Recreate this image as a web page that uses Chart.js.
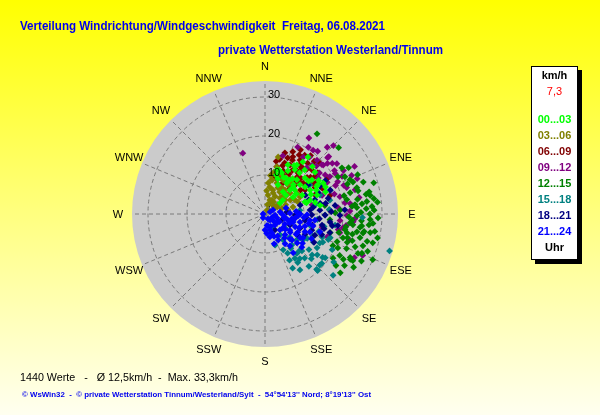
<!DOCTYPE html>
<html><head><meta charset="utf-8">
<script src="https://cdn.jsdelivr.net/npm/chart.js@4.4.0/dist/chart.umd.min.js"></script>
<style>html,body{margin:0;padding:0;background:#fff}#c{display:block}</style>
</head><body>
<canvas id="c" width="600" height="415"></canvas>
<script>
// ---- data: [direction in degrees, speed in km/h] per 3-hour period ----
const hourLabels = ['00...03','03...06','06...09','09...12','12...15','15...18','18...21','21...24'];
const h00 = [[15,11.7],[22,11.4],[36,16.5],[37,18.3],[40,13.8],[43,12],[35,9.7],[46,8.9],[39,7.3],[46,10],[54,14.9],[61,15.5],[62,16.9],[52,5.8],[54,4.8],[63,10.7],[73,10.7],[59,8.4],[70,14.2],[81,14.3],[18,11.8],[16,10.4],[62,15],[51,9.8],[73,12.1],[24,8.2],[66,17],[25,13.9],[34,13.7],[48,13.8],[50,11.7],[62,13.1],[30,10.7],[50,16.7],[36,10.8],[28,12.5],[42,15.2],[56,12.4],[67,12.8],[45,17.2],[33,15],[58,16.2],[77,13.2],[20,9.6],[48,7.2],[38,11.5],[31,14.5],[44,10.5],[53,14],[65,14.5],[70,16.5],[75,11],[57,9.5],[27,10.5]];
const h03 = [[13,15],[21,5.8],[27,4],[55,4],[12,8.9],[21,8.5],[33,8],[49,7.5],[43,5.6],[55,3.1],[71,4.6],[61,7.4],[76,7.4],[57,9.8],[70,9],[11,9],[24,3.1],[60,3.6],[27,1.1],[10,7],[12,11],[9,4.9],[40,8],[50,8.4],[65,8.5],[55,6.3],[34,6.8],[64,10],[38,9.5],[18,6.5],[30,5.2],[45,3],[66,5.8],[40,10.5],[28,9.8],[80,6],[15,2.5],[8,10],[6,8],[14,12.5],[17,10.2],[19,3.8],[22,11],[35,3.8],[4,6],[26,7.5],[45,6.5]];
const h06 = [[27,15.5],[27,14.1],[32,13.2],[28,12.2],[22,10.2],[16,9.7],[30,9.2],[38,15.3],[39,13.5],[49,14.3],[47,16.5],[58,15.7],[51,12.6],[40,11.3],[66,16.1],[23,12],[10,10.2],[39,14.4],[52,17.2],[60,18.6],[51,15],[41,12.5],[65,16.4],[57,14.6],[21,14],[22,15.5],[46,10.7],[59,12],[69,13.7],[74,17.4],[33,16.5],[40,17],[44,9.2],[35,11],[45,13],[55,13.5],[62,14.5],[30,17.5],[14,12.5],[25,11],[36,13.8],[43,15.8],[48,12],[53,16],[63,17],[35,15.3],[20,13.2],[31,12],[56,11],[18,16.5],[24,17.5],[29,18.8],[34,18.2],[38,19],[43,18.5],[15,14.5],[12,13.8],[47,19.2],[26,16.3]];
const h09 = [[33,20.4],[37,20.5],[17,15.6],[44,19.2],[49,19.3],[51,20.6],[44,17.4],[42,16],[53,17.5],[45,24.8],[48,22],[50,19.5],[53,21.6],[66,24.3],[60,20.8],[60,19.2],[63,17.9],[66,20.4],[72,22],[77,19.7],[82,20.7],[91,21],[95,22.7],[100,20.3],[113,27.2],[102,19.2],[110,17],[340,16.6],[43,23.4],[48,21.6],[61,23],[69,25.3],[83,22],[95,19.3],[104,19.8],[26,19.1],[34,17.6],[57,18.4],[75,23.9],[72,15.4],[79,12.3],[87,16.7],[103,15],[93,23.1],[55,22.5],[58,21],[64,22],[68,19.5],[40,21],[38,18.5],[47,18],[56,16.5],[70,21.5],[74,18.5],[85,18.8],[88,21.8],[98,21],[107,22.5],[116,25.5],[80,24.5],[30,22.5],[62,26]];
const h12 = [[87,26],[92,29],[97,22.7],[101,24],[106,22],[104,25.1],[100,27.4],[108,26.4],[112,26.8],[117,24.5],[118,25.5],[115,20.6],[115,19.2],[128,24.5],[113,30],[101,20.9],[107,20.9],[48,25.4],[59,23],[61,24.5],[70,24],[74,29],[76,24.6],[80,27.4],[84,29],[83,26.3],[84,25],[86,23.6],[85,22.4],[33,24.5],[76,22.5],[80,21.3],[105,28.6],[118,24.8],[105,27.1],[101,25.6],[98,24.6],[90,26.9],[96,21.9],[103,21.6],[111,19.8],[106,17.4],[113,25.9],[94,22.4],[91,23.6],[97,25],[119,21.9],[123,24.3],[123,20.8],[79,26.4],[84,23.2],[87,19.3],[77,20.8],[63,21],[65,22.6],[68,23.5],[74,24.5],[95,16.7],[89,18],[82,15.5],[88,28],[93,27],[99,28.5],[102,29.5],[96,26.8],[89,24.6],[94,24.8],[107,23.4],[110,24.6],[109,22.3],[103,23],[99,21],[116,27.5],[121,26.5],[110,28],[86,27.5],[82,28.2],[78,27.3],[72,26.5],[70,22.5],[67,25.8],[81,24],[92,21.5],[104,19.5],[113,22.7],[120,23.2],[126,22.5],[100,25.8],[95,27.8]];
const h15 = [[174,4.9],[144,6.6],[133,8.7],[139,10.5],[141,13],[136,12.9],[138,15.2],[146,15],[128,17],[123,15.9],[133,19.2],[137,19.8],[112,15.8],[150,11.6],[146,13.7],[135,13.4],[137,19.4],[127,18.5],[120,14.3],[116,16.5],[112,17.5],[106.5,33.3],[110,17.8],[118,15.9],[132,23.5],[126,19.1],[131,19.3],[92,25],[153,4],[125,6.3],[145,8.1],[104,11.9],[99,18.2],[91,15.4],[80,13],[78,17],[71,14.9],[84,9],[152,13.4],[153,10.3],[148,16.9],[153,15.6],[124,11.8],[162,8.4],[70,17.8],[57,13.7],[129,14.5],[134,16.5],[140,17.5],[143,11],[130,10.5],[120,12.5],[115,13.5],[108,14.5],[102,15.5],[96,13.5],[86,16.5],[125,21.5],[131,16],[142,14.5],[118,19.5]];
const h18 = [[86,14.1],[91,15.4],[97,16.8],[101,14.9],[83,18.1],[74,13.3],[85,11.6],[99,10.4],[112,9.7],[109,12.7],[92,7.7],[114,7],[68,14.7],[56,13.3],[61,17.7],[91,19.2],[106,17.3],[109,4.6],[148,4.8],[76,9.3],[79,14.4],[65,11.4],[70,17.8],[87,20.5],[113,13.9],[123,10],[85,5.6],[99,18.9],[91,12],[76,16.7],[80,15.8],[88,17],[95,14],[104,15.6],[103,12.5],[117,11.5],[120,14.5],[95,10.5],[82,12.5],[72,11.8],[63,15.8],[100,17.5],[110,15.5],[89,8.8]];
const h21 = [[270,0.5],[207,1.1],[68,1.4],[96,2.6],[82,3.9],[99,5.2],[88,6.4],[98,7.8],[90,9],[140,2],[138,3.8],[166,3.2],[137,5.6],[160,5.2],[168,6],[136,7.4],[123,7.6],[113,8.4],[103,9.2],[107,10.7],[122,11.5],[132,12.7],[108,14.8],[144,12.3],[98,11.6],[117,5.7],[122,3.9],[134,9.6],[119,9.6],[112,12.4],[153,7.5],[146,9.2],[180,4.1],[149,1.5],[106,7.5],[128,5.8],[91,10.8],[104,12.7],[142,10.4],[132,11.1],[124,10.9],[163,8],[105,6.1],[108,3.2],[123,9.5],[114,11.2],[97,12.9],[63,2.3],[74,5.6],[92,4.5],[115,2],[130,3],[155,3.5],[100,7],[95,10],[126,8],[150,6.5],[170,3],[85,8],[93,8.5],[102,5],[110,6.8],[118,4.2],[127,6.5],[135,9],[141,7.9],[158,6.2],[162,4.3],[175,5],[102,11.5],[111,9.5],[118,13.5],[128,12.2]];
const ringTicks = [0, 10, 20, 30];
const dirLabels = ['N','NNE','NE','ENE','E','ESE','SE','SSE','S','SSW','SW','WSW','W','WNW','NW','NNW'];
const axisMax = 34.1;
const calmValue = '7,3';
const titleText = 'Verteilung Windrichtung/Windgeschwindigkeit  Freitag, 06.08.2021';
const subtitleText = 'private Wetterstation Westerland/Tinnum';
const footer1 = '1440 Werte   -   \u00D8 12,5km/h  -  Max. 33,3km/h';
const footer2 = '\u00A9 WsWin32  -  \u00A9 private Wetterstation Tinnum/Westerland/Sylt  -  54\u00B054\'13\'\' Nord; 8\u00B019\'13\'\' Ost';

// ---- styles ----
const hourColors = ['#00ff00','#808000','#800000','#800080','#008000','#008080','#000080','#0000ff'];
const FONT = '"Liberation Sans", Arial, sans-serif';

const groups = [h00,h03,h06,h09,h12,h15,h18,h21];
const rad = d => d*Math.PI/180;
const toXY = arr => arr.map(([d,s]) => ({x: s*Math.sin(rad(d)), y: s*Math.cos(rad(d))}));
// first dataset is drawn on top
const drawOrder = [7,0,6,5,4,3,1,2];
const datasets = drawOrder.map(i => ({
  label: hourLabels[i],
  data: toXY(groups[i]),
  backgroundColor: hourColors[i],
  borderColor: hourColors[i],
  borderWidth: 0,
  pointStyle: 'rectRot',
  pointRadius: 3.4,
  pointHoverRadius: 3.4
}));

function txt(ctx, s, x, y, font, color, align, base, targetW) {
  ctx.save();
  ctx.font = font; ctx.fillStyle = color;
  ctx.textAlign = align || 'left'; ctx.textBaseline = base || 'alphabetic';
  if (targetW) {
    const w = ctx.measureText(s).width;
    ctx.translate(x, y); ctx.scale(targetW / w, 1); ctx.fillText(s, 0, 0);
  } else ctx.fillText(s, x, y);
  ctx.restore();
}

function geom(chart) {
  const xs = chart.scales.x, ys = chart.scales.y;
  const cx = xs.getPixelForValue(0), cy = ys.getPixelForValue(0);
  return { cx, cy, rp: v => xs.getPixelForValue(v) - cx };
}

const polarPlugin = {
  id: 'polarGrid',
  beforeDraw(chart) {
    const ctx = chart.ctx;
    const g = ctx.createLinearGradient(0, 0, 0, chart.height);
    g.addColorStop(0, '#ffff00'); g.addColorStop(0.45, '#ffff70'); g.addColorStop(1, '#fffff0');
    ctx.save(); ctx.fillStyle = g; ctx.fillRect(0, 0, chart.width, chart.height); ctx.restore();
  },
  beforeDatasetsDraw(chart) {
    const ctx = chart.ctx, { cx, cy, rp } = geom(chart);
    const R = rp(axisMax);
    ctx.save();
    ctx.beginPath(); ctx.arc(cx, cy, R, 0, Math.PI*2); ctx.fillStyle = '#cbcbcb'; ctx.fill();
    ctx.strokeStyle = '#7a7a7a'; ctx.lineWidth = 1; ctx.setLineDash([4,3]);
    ringTicks.filter(v => v > 0).forEach(v => { ctx.beginPath(); ctx.arc(cx, cy, rp(v), 0, Math.PI*2); ctx.stroke(); });
    for (let i = 0; i < 16; i++) {
      const a = rad(i*22.5);
      ctx.beginPath(); ctx.moveTo(cx, cy); ctx.lineTo(cx + R*Math.sin(a), cy - R*Math.cos(a)); ctx.stroke();
    }
    ctx.setLineDash([]);
    ringTicks.filter(v => v === 0).forEach(v => txt(ctx, String(v), cx + 3, cy - rp(v) - 4, '11px ' + FONT, '#000', 'left', 'middle'));
    const LR = rp(37.7);
    dirLabels.forEach((l, i) => {
      const a = rad(i*22.5);
      txt(ctx, l, cx + LR*Math.sin(a), cy - LR*Math.cos(a) + 0.5, '11px ' + FONT, '#000', 'center', 'middle');
    });
    ctx.restore();
  },
  afterDatasetsDraw(chart) {
    const ctx = chart.ctx, { cx, cy, rp } = geom(chart);
    ringTicks.filter(v => v > 0).forEach(v => txt(ctx, String(v), cx + 3, cy - rp(v) - 2, '11px ' + FONT, '#000', 'left', 'middle'));
  },
  afterDraw(chart) {
    const ctx = chart.ctx;
    txt(ctx, titleText, 20, 29.5, 'bold 12px ' + FONT, '#0000ee', 'left', 'alphabetic', 365);
    txt(ctx, subtitleText, 218, 54, 'bold 12px ' + FONT, '#0000ee', 'left', 'alphabetic', 225);
    txt(ctx, footer1, 20, 381, '10.5px ' + FONT, '#000', 'left', 'alphabetic', 218);
    txt(ctx, footer2, 22, 397, 'bold 7.5px ' + FONT, '#0000ee', 'left', 'alphabetic', 349);
    // legend box
    ctx.save();
    ctx.fillStyle = '#000'; ctx.fillRect(535, 70, 47, 194);
    ctx.fillStyle = '#fff'; ctx.fillRect(531, 66, 47, 194);
    ctx.strokeStyle = '#000'; ctx.lineWidth = 1; ctx.strokeRect(531.5, 66.5, 46, 193);
    ctx.restore();
    const lx = 554.5;
    txt(ctx, 'km/h', lx, 76, 'bold 11px ' + FONT, '#000', 'center', 'middle');
    txt(ctx, calmValue, lx, 92, '11px ' + FONT, '#ff0000', 'center', 'middle');
    hourLabels.forEach((l, i) => txt(ctx, l, lx, 119.5 + i*16, 'bold 11px ' + FONT, hourColors[i], 'center', 'middle'));
    txt(ctx, 'Uhr', lx, 247.5, 'bold 11px ' + FONT, '#000', 'center', 'middle');
  }
};

new Chart(document.getElementById('c'), {
  type: 'scatter',
  data: { datasets },
  options: {
    responsive: false, animation: false, events: [],
    layout: { padding: { left: 132, right: 202, top: 81, bottom: 68 } },
    scales: {
      x: { type: 'linear', min: -axisMax, max: axisMax, display: false },
      y: { type: 'linear', min: -axisMax, max: axisMax, display: false }
    },
    plugins: { legend: { display: false }, tooltip: { enabled: false }, title: { display: false } },
    elements: { point: { pointStyle: 'rectRot' } }
  },
  plugins: [polarPlugin]
});
</script>
</body></html>
